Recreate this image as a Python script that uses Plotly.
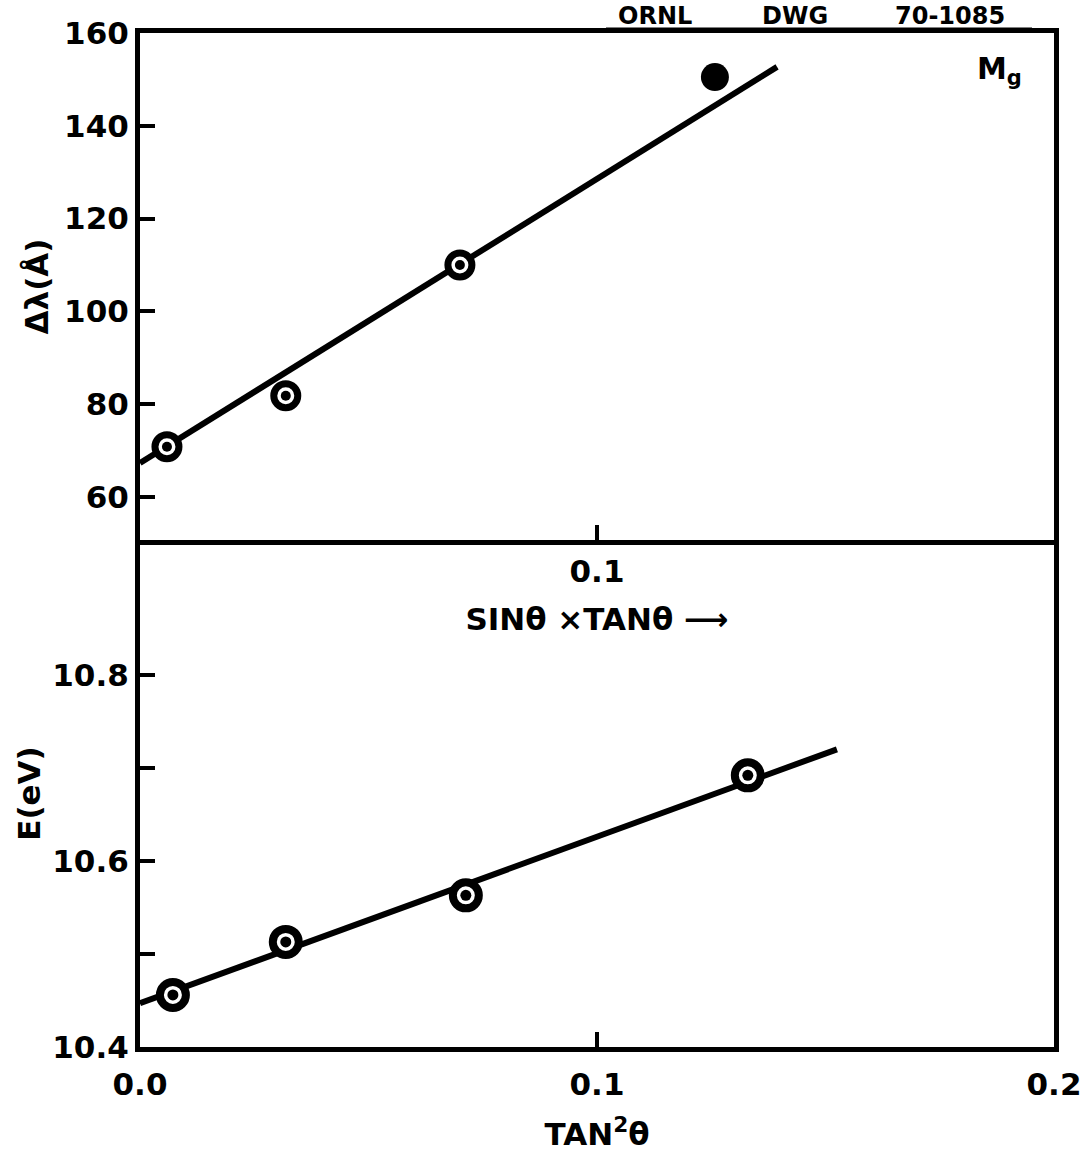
import plotly.graph_objects as go

# ---- data ----
top_x = [0.0059, 0.0319, 0.0700]          # sin(theta) x tan(theta), open points
top_y = [70.8, 81.8, 110.0]               # delta lambda (A)
top_fill_x = [0.1258]                      # solid point
top_fill_y = [150.5]
top_fit_x = [0.0, 0.1394]
top_fit_y = [67.3, 152.7]

bot_x = [0.0072, 0.0319, 0.0713, 0.1330]  # tan^2(theta)
bot_y = [10.456, 10.513, 10.563, 10.692]  # E (eV)
bot_fit_x = [0.0, 0.1525]
bot_fit_y = [10.447, 10.720]

top_ytick_vals = [60, 80, 100, 120, 140, 160]
top_ytick_text = ["60", "80", "100", "120", "140", "160"]
bot_ytick_vals = [10.4, 10.6, 10.8]
bot_ytick_text = ["10.4", "10.6", "10.8"]
bot_yminor_vals = [10.5, 10.7]
top_xtick_vals = [0.1]
top_xtick_text = ["0.1"]
bot_xtick_vals = [0.0, 0.1, 0.2]
bot_xtick_text = ["0.0", "0.1", "0.2"]

drawing_words = ["ORNL", "DWG", "70-1085"]

W, H = 1080, 1157
FONT = dict(family="DejaVu Sans", size=31, color="black", weight="bold")

fig = go.Figure()

# top panel
fig.add_trace(go.Scatter(x=top_fit_x, y=top_fit_y, mode="lines",
                         line=dict(color="black", width=6), xaxis="x", yaxis="y",
                         showlegend=False, hoverinfo="skip"))
fig.add_trace(go.Scatter(x=top_x, y=top_y, mode="markers",
                         marker=dict(symbol="circle", size=24, color="white",
                                     line=dict(color="black", width=7)),
                         xaxis="x", yaxis="y", showlegend=False))
fig.add_trace(go.Scatter(x=top_x, y=top_y, mode="markers",
                         marker=dict(symbol="circle", size=10, color="black"),
                         xaxis="x", yaxis="y", showlegend=False, hoverinfo="skip"))
fig.add_trace(go.Scatter(x=top_fill_x, y=top_fill_y, mode="markers",
                         marker=dict(symbol="circle", size=28, color="black"),
                         xaxis="x", yaxis="y", showlegend=False))

# bottom panel
fig.add_trace(go.Scatter(x=bot_fit_x, y=bot_fit_y, mode="lines",
                         line=dict(color="black", width=6), xaxis="x2", yaxis="y2",
                         showlegend=False, hoverinfo="skip"))
fig.add_trace(go.Scatter(x=bot_x, y=bot_y, mode="markers",
                         marker=dict(symbol="circle", size=26, color="white",
                                     line=dict(color="black", width=8)),
                         xaxis="x2", yaxis="y2", showlegend=False))
fig.add_trace(go.Scatter(x=bot_x, y=bot_y, mode="markers",
                         marker=dict(symbol="circle", size=11, color="black"),
                         xaxis="x2", yaxis="y2", showlegend=False, hoverinfo="skip"))

xdom = [140 / W, 1054 / W]
top_dom = [1 - 540 / H, 1 - 33 / H]
bot_dom = [1 - 1047 / H, 1 - 540 / H]

axis_common = dict(showline=True, linecolor="black", linewidth=5, mirror=True,
                   ticks="inside", tickcolor="black", tickwidth=4, ticklen=15,
                   showgrid=False, zeroline=False, tickfont=FONT,
                   automargin=False, ticklabeloverflow="allow")

TITLE_FONT = dict(family="DejaVu Sans", size=24, color="black", weight="bold")
word_centers = [655, 795, 950]
annotations = [
    dict(text=w, xref="paper", yref="paper", x=cx / W, y=1 - 31 / H,
         xanchor="center", yanchor="bottom", showarrow=False, font=TITLE_FONT,
         borderpad=0)
    for w, cx in zip(drawing_words, word_centers)
]
annotations.append(
    dict(text="M<sub>g</sub>", xref="x", yref="y", x=0.188, y=152,
         showarrow=False, font=dict(family="DejaVu Sans", size=30,
                                    color="black", weight="bold")))

fig.update_layout(
    width=W, height=H,
    margin=dict(l=0, r=0, t=0, b=0, autoexpand=False),
    paper_bgcolor="white", plot_bgcolor="white",
    font=FONT,
    xaxis=dict(axis_common, domain=xdom, anchor="y", range=[0, 0.2],
               tickmode="array", tickvals=top_xtick_vals, ticktext=top_xtick_text,
               title=dict(text="SINθ ×TANθ ⟶", font=FONT, standoff=22)),
    yaxis=dict(axis_common, domain=top_dom, anchor="x", range=[50.7, 160],
               tickmode="array", tickvals=top_ytick_vals, ticktext=top_ytick_text,
               title=dict(text="Δλ(Å)", font=FONT, standoff=8)),
    xaxis2=dict(axis_common, domain=xdom, anchor="y2", range=[0, 0.2],
                mirror=False, ticklabelstandoff=6,
                tickmode="array", tickvals=bot_xtick_vals, ticktext=bot_xtick_text,
                title=dict(text="TAN<sup>2</sup>θ", font=FONT, standoff=24)),
    yaxis2=dict(axis_common, domain=bot_dom, anchor="x2", range=[10.4, 10.945],
                tickmode="array", tickvals=bot_ytick_vals, ticktext=bot_ytick_text,
                minor=dict(tickvals=bot_yminor_vals, ticks="inside", ticklen=15,
                           tickwidth=4, tickcolor="black", showgrid=False),
                title=dict(text="E(eV)", font=FONT, standoff=4)),
    annotations=annotations,
    shapes=[
        dict(type="line", xref="paper", yref="paper",
             x0=606 / W, x1=1032 / W, y0=1 - 29 / H, y1=1 - 29 / H,
             line=dict(color="black", width=3)),
    ],
)

fig.write_html("out.html")
